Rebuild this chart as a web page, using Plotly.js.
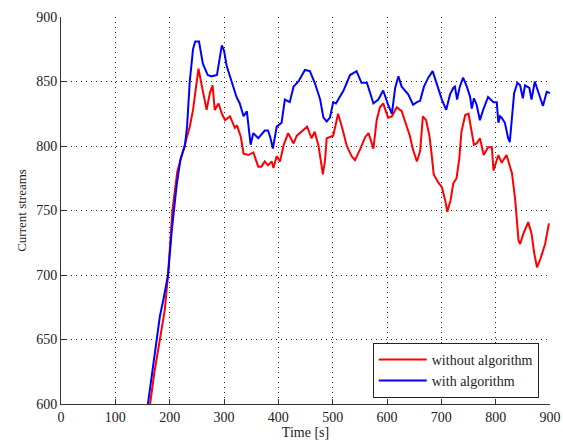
<!DOCTYPE html>
<html>
<head>
<meta charset="utf-8">
<script src="https://cdn.plot.ly/plotly-3.0.1.min.js"></script>
<style>html,body{margin:0;padding:0;background:#fff;}#chart{width:563px;height:446px;}</style>
</head>
<body>
<div id="chart"></div>
<script>
var tWithout = [164,172,182,184,191,197,205,214,227,237,243,253,259,268,274,279,283,290,296,302,311,320,324,331,336,345,354,363,369,375,381,388,391,397,403,410,418,428,434,443,453,461,467,474,478,482,486,489,501,510,517,526,535,541,550,560,566,575,581,587,593,602,609,618,627,636,642,648,655,661,666,672,678,682,686,694,701,707,711,717,722,728,733,737,744,750,756,760,765,771,778,786,793,796,805,811,820,830,836,839,842,845,851,860,866,871,876,882,891,898];
var yWithout = [600,625,650,655,673,700,750,780,800,815,828,860,847,828,841,847,828,833,825,820,823,814,816,807,794,793,795,784,784,788,785,788,783,792,788,801,810,802,808,811,815,806,811,800,787,778,789,806,808,825,815,800,792,789,797,807,810,798,820,830,833,822,823,830,827,816,808,797,788,796,823,820,808,794,778,772,768,758,749,758,771,775,790,811,824,825,812,801,802,806,793,799,799,781,793,787,793,779,758,740,727,724,732,741,732,717,706,712,724,740];

var tWith = [160,168,177,182,188,197,204,208,213,220,228,232,237,243,247,254,261,270,277,287,296,300,305,314,323,329,336,342,345,349,354,363,375,381,385,390,397,406,412,421,428,437,449,458,467,477,483,489,495,501,506,510,520,532,544,553,563,575,584,593,598,602,609,615,621,627,639,648,655,661,668,676,684,691,701,709,716,722,725,729,734,740,747,753,756,760,765,771,777,786,796,802,805,808,811,817,823,826,829,834,840,845,850,854,862,866,872,879,887,894,900];
var yWith = [600,625,650,668,680,700,735,750,770,790,800,815,850,875,881,881,864,855,854,855,878,874,862,850,838,833,823,827,814,801,810,806,812,812,807,798,815,818,836,834,846,850,859,858,849,836,822,819,822,834,833,836,843,855,858,849,849,833,836,843,836,832,825,845,854,846,840,832,834,835,846,853,858,849,836,828,840,845,846,836,846,853,846,838,829,837,832,820,828,838,834,834,818,823,822,818,806,803,820,841,849,847,837,847,845,836,850,841,831,842,841];

var xTicks = [0,100,200,300,400,500,600,700,800,900];
var yTicks = [600,650,700,750,800,850,900];
var seriesNames = ['without algorithm','with algorithm'];

var fam = 'Liberation Serif, Times New Roman, serif';
var font = {family: fam, size: 14, color: '#222'};

var traces = [
  {x: tWithout, y: yWithout, type: 'scatter', mode: 'lines', name: seriesNames[0],
   line: {color: '#ff0000', width: 2}},
  {x: tWith, y: yWith, type: 'scatter', mode: 'lines', name: seriesNames[1],
   line: {color: '#0000ff', width: 2}}
];

var axisCommon = {
  showline: true, linecolor: '#333', linewidth: 1,
  ticks: 'inside', ticklen: 5, tickcolor: '#333', tickwidth: 1,
  showgrid: true, gridcolor: '#222', gridwidth: 1, griddash: '1px,4px',
  zeroline: false, mirror: false, tickfont: font
};

var layout = {
  width: 563, height: 446,
  margin: {l: 61, r: 13, t: 17, b: 42},
  paper_bgcolor: '#fff', plot_bgcolor: '#fff',
  font: font,
  showlegend: true,
  legend: {
    x: 0.977, y: 0.016, xanchor: 'right', yanchor: 'bottom',
    bgcolor: '#fff', bordercolor: '#222', borderwidth: 1,
    font: {family: fam, size: 14, color: '#222'},
    itemwidth: 48, tracegroupgap: 0
  },
  xaxis: Object.assign({}, axisCommon, {
    range: [0, 900], tickvals: xTicks, ticktext: xTicks.map(String),
    title: {text: 'Time [s]', font: font, standoff: 2}
  }),
  yaxis: Object.assign({}, axisCommon, {
    range: [600, 900], tickvals: yTicks, ticktext: yTicks.map(String),
    title: {text: 'Current streams', font: {family: fam, size: 13, color: '#222'}, standoff: 6}
  })
};

Plotly.newPlot('chart', traces, layout, {displayModeBar: false, staticPlot: true});
</script>
</body>
</html>
